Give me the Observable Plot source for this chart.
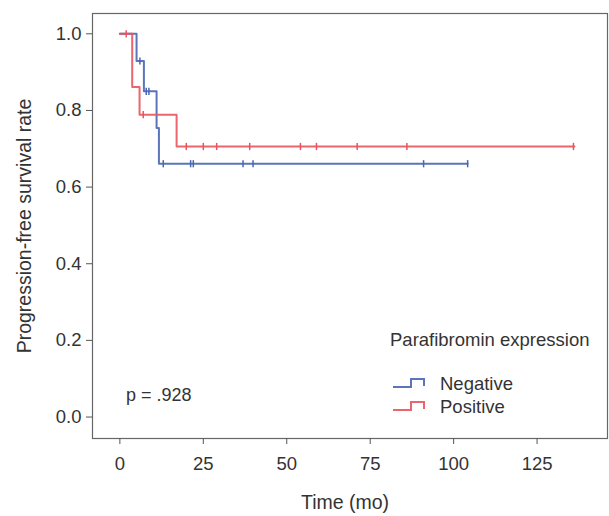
<!DOCTYPE html>
<html>
<head>
<meta charset="utf-8">
<script src="https://cdn.jsdelivr.net/npm/d3@7"></script>
<script src="https://cdn.jsdelivr.net/npm/@observablehq/plot@0.6"></script>
<style>
  html, body { margin: 0; padding: 0; background: #fff; }
</style>
</head>
<body>
<div id="chart"></div>
<script>
// ---- data ----
const groups = ["Negative", "Positive"];
const colors = ["#4a66b2", "#e8545e"];

const negTime = [0, 5, 7.2, 11, 11.7, 104.2];
const negSurv = [1, 0.929, 0.85, 0.754, 0.661, 0.661];
const posTime = [0, 3.7, 5.9, 17, 136.2];
const posSurv = [1, 0.861, 0.789, 0.706, 0.706];

const negCensorTime = [6, 7.9, 8.7, 13, 21.2, 22, 36.9, 39.9, 91, 104.2];
const negCensorSurv = [0.929, 0.85, 0.85, 0.661, 0.661, 0.661, 0.661, 0.661, 0.661, 0.661];
const posCensorTime = [1.9, 7, 19.9, 25, 29, 38.9, 54.1, 58.9, 71.1, 86, 135.9];
const posCensorSurv = [1, 0.789, 0.706, 0.706, 0.706, 0.706, 0.706, 0.706, 0.706, 0.706, 0.706];

const xTicks = [0, 25, 50, 75, 100, 125];
const yTicks = [0, 0.2, 0.4, 0.6, 0.8, 1.0];
const pText = "p = .928";
const legendTitle = "Parafibromin expression";
const xLabel = "Time (mo)";
const yLabel = "Progression-free survival rate";

// ---- tables ----
const steps = [
  ...negTime.map((t, i) => ({group: groups[0], time: t, surv: negSurv[i]})),
  ...posTime.map((t, i) => ({group: groups[1], time: t, surv: posSurv[i]}))
];
const censors = [
  ...negCensorTime.map((t, i) => ({group: groups[0], time: t, surv: negCensorSurv[i]})),
  ...posCensorTime.map((t, i) => ({group: groups[1], time: t, surv: posCensorSurv[i]}))
];

const vline = {
  draw(context, size) {
    const r = Math.sqrt(size / Math.PI);
    context.moveTo(0, -r);
    context.lineTo(0, r);
  }
};

const font = "'Liberation Sans', Arial, Helvetica, sans-serif";

const svg = Plot.plot({
  width: 609,
  height: 516,
  marginLeft: 92,
  marginTop: 13,
  marginRight: 2,
  marginBottom: 78,
  style: {fontFamily: font, fontSize: "18.5px", color: "#333", background: "#fff", overflow: "visible"},
  x: {domain: [-8.2, 146.1]},
  y: {domain: [-0.056, 1.053]},
  color: {domain: groups, range: colors},
  marks: [
    Plot.frame({stroke: "#666", strokeWidth: 1.2}),
    Plot.axisX({ticks: xTicks, tickSize: 6, tickPadding: 12, label: null, stroke: "#555", fill: "#333"}),
    Plot.axisY({ticks: yTicks, tickSize: 6, tickPadding: 5, tickFormat: ".1f", label: null, stroke: "#555", fill: "#333"}),
    Plot.line(steps, {x: "time", y: "surv", z: "group", stroke: "group", curve: "step-after", strokeWidth: 2, strokeOpacity: 0.9}),
    Plot.dot(censors, {x: "time", y: "surv", stroke: "group", symbol: vline, r: 3.6, strokeWidth: 1.5})
  ]
});

const s = d3.select(svg);
const tf = (sel, anchor) => sel.attr("font-family", font).attr("fill", "#333").attr("text-anchor", anchor || "start");

// axis titles
tf(s.append("text"), "middle").attr("x", 345).attr("y", 509)
  .attr("font-size", "19.5px").text(xLabel);
tf(s.append("text"), "middle").attr("transform", "translate(31,226) rotate(-90)")
  .attr("font-size", "19.5px").text(yLabel);

// p value
tf(s.append("text")).attr("x", 126).attr("y", 401).attr("font-size", "18px").text(pText);

// legend
tf(s.append("text")).attr("x", 390).attr("y", 346).attr("font-size", "18.5px").text(legendTitle);
const legendY = [383, 406];
groups.forEach((g, i) => {
  const yb = legendY[i] + 4, yt = legendY[i] - 4;
  s.append("path")
    .attr("d", `M393,${yb}H411V${yt}H424V${yb - 1}`)
    .attr("fill", "none").attr("stroke", colors[i]).attr("stroke-width", 2).attr("stroke-opacity", 0.9);
  tf(s.append("text")).attr("x", 440).attr("y", legendY[i] + 6.5).attr("font-size", "18.5px").text(g);
});

document.getElementById("chart").appendChild(svg);
</script>
</body>
</html>
